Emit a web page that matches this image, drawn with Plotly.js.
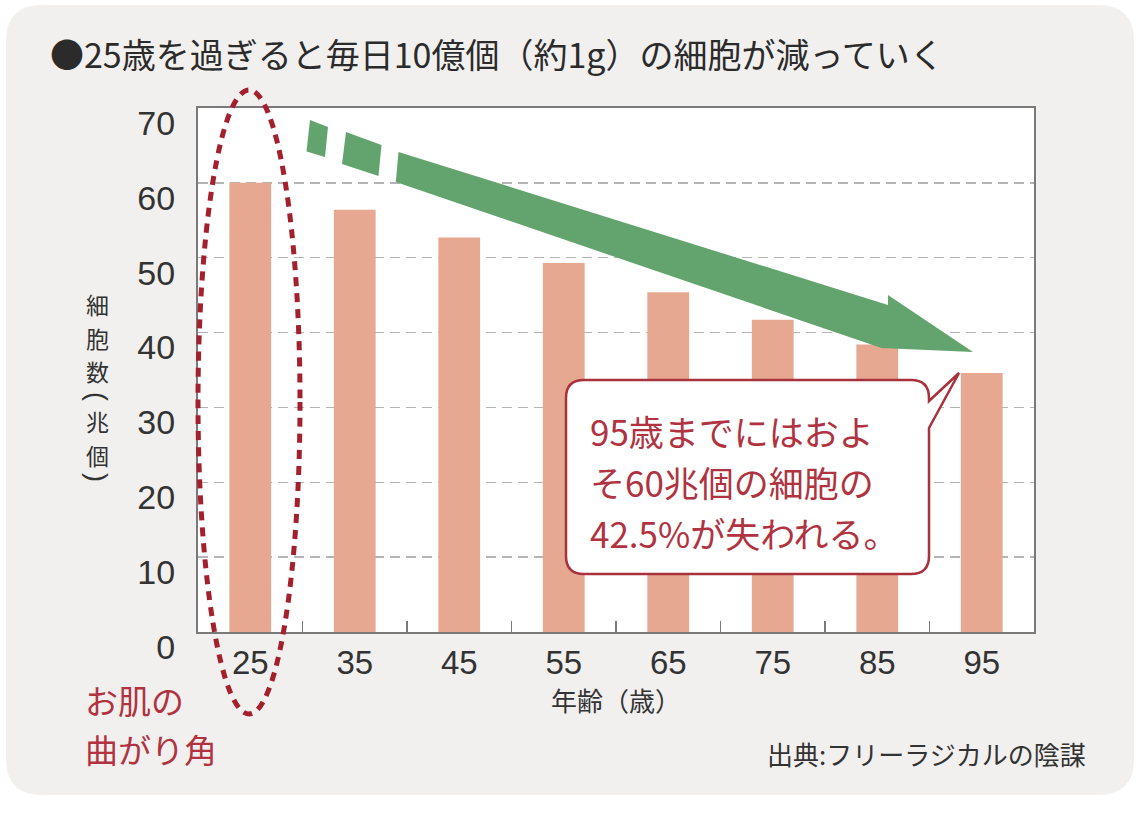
<!DOCTYPE html>
<html>
<head>
<meta charset="utf-8">
<script src="https://cdn.plot.ly/plotly-3.0.1.min.js"></script>
<style>
html,body{margin:0;padding:0;background:#ffffff;}
#chart{width:1136px;height:814px;}
</style>
</head>
<body>
<div id="chart"></div>
<script>
// ---- data ----
const ages = ['25', '35', '45', '55', '65', '75', '85', '95'];
const cellCounts = [60, 56.4, 52.7, 49.3, 45.4, 41.7, 38.4, 34.6];
const yTickValues = [0, 10, 20, 30, 40, 50, 60, 70];
const chartTitle = '●25歳を過ぎると毎日10億個（約1g）の細胞が減っていく';
const xAxisTitle = '年齢（歳）';
const yAxisTitleChars = ['細', '胞', '数', '(', '兆', '個', ')'];
const calloutLines = ['95歳までにはおよ', 'そ60兆個の細胞の', '42.5%が失われる。'];
const noteLines = ['お肌の', '曲がり角'];
const sourceText = '出典:フリーラジカルの陰謀';

// ---- geometry helpers (plot area in page pixels) ----
const W = 1136, H = 814;
const L = 198, R = 1034, T = 108, B = 632;
const px = x => (x - L) / (R - L);
const py = y => (B - y) / (B - T);
function P(x, y) { return px(x) + ',' + py(y); }
function rrectPath(x0, y0, x1, y1, r) {
  return 'M' + P(x0 + r, y0) + ' L' + P(x1 - r, y0) + ' Q' + P(x1, y0) + ' ' + P(x1, y0 + r) +
    ' L' + P(x1, y1 - r) + ' Q' + P(x1, y1) + ' ' + P(x1 - r, y1) +
    ' L' + P(x0 + r, y1) + ' Q' + P(x0, y1) + ' ' + P(x0, y1 - r) +
    ' L' + P(x0, y0 + r) + ' Q' + P(x0, y0) + ' ' + P(x0 + r, y0) + ' Z';
}
function polyPath(pts) {
  return pts.map((p, i) => (i ? 'L' : 'M') + P(p[0], p[1])).join(' ') + ' Z';
}

const CJK = '"Noto Sans CJK JP", "Noto Sans", sans-serif';
const LAT = '"Liberation Sans", Arial, sans-serif';
const RED = '#a3202d';
const TXT_RED = '#b0333f';
const GREEN = '#63a46e';

// callout box with tail
const cb = {x0: 566, y0: 380, x1: 929, y1: 574, r: 18};
const calloutPath =
  'M' + P(cb.x0 + cb.r, cb.y0) + ' L' + P(cb.x1 - cb.r, cb.y0) +
  ' Q' + P(cb.x1, cb.y0) + ' ' + P(cb.x1, cb.y0 + cb.r) +
  ' L' + P(cb.x1, 401) + ' L' + P(959, 373) + ' L' + P(cb.x1, 428) +
  ' L' + P(cb.x1, cb.y1 - cb.r) + ' Q' + P(cb.x1, cb.y1) + ' ' + P(cb.x1 - cb.r, cb.y1) +
  ' L' + P(cb.x0 + cb.r, cb.y1) + ' Q' + P(cb.x0, cb.y1) + ' ' + P(cb.x0, cb.y1 - cb.r) +
  ' L' + P(cb.x0, cb.y0 + cb.r) + ' Q' + P(cb.x0, cb.y0) + ' ' + P(cb.x0 + cb.r, cb.y0) + ' Z';

const shapes = [
  // grey rounded panel
  {type: 'path', xref: 'paper', yref: 'paper', layer: 'below',
   path: rrectPath(6, 5, 1134, 795, 36), fillcolor: '#f2f0ee', line: {width: 0}},
  // white plot area
  {type: 'rect', xref: 'paper', yref: 'paper', layer: 'below',
   x0: 0, x1: 1, y0: 0, y1: 1, fillcolor: '#ffffff', line: {width: 0}},
  // green dashed-start arrow
  {type: 'path', xref: 'paper', yref: 'paper', layer: 'above',
   path: polyPath([[310, 120], [328, 127], [325, 157], [306.5, 151.5]]), fillcolor: GREEN, line: {width: 0}},
  {type: 'path', xref: 'paper', yref: 'paper', layer: 'above',
   path: polyPath([[346, 132], [381.5, 145], [378.5, 176], [342, 164]]), fillcolor: GREEN, line: {width: 0}},
  {type: 'path', xref: 'paper', yref: 'paper', layer: 'above',
   path: polyPath([[398.5, 152], [888, 305], [888, 295], [973, 352], [881.5, 348], [395.8, 182]]),
   fillcolor: GREEN, line: {width: 0}},
  // callout
  {type: 'path', xref: 'paper', yref: 'paper', layer: 'above',
   path: calloutPath, fillcolor: '#ffffff', line: {color: '#a8313c', width: 2.5}},
  // dotted ellipse around 25
  {type: 'circle', xref: 'paper', yref: 'paper', layer: 'above',
   x0: px(198), x1: px(300), y0: py(714), y1: py(90),
   line: {color: RED, width: 5, dash: '9px,7px'}}
];

const annotations = [];
// vertical y-axis title: upright stacked characters, parentheses turned sideways
const yTitlePos = [304, 337.5, 371, 396, 421, 455, 477];
yAxisTitleChars.forEach((c, i) => {
  const isParen = (c === '(' || c === ')');
  annotations.push({xref: 'paper', yref: 'paper', x: px(97), y: py(yTitlePos[i]), text: c,
    showarrow: false, xanchor: 'center', yanchor: 'middle', borderpad: 0, borderwidth: 0,
    textangle: isParen ? 90 : 0,
    font: isParen ? {family: LAT, size: 27, color: '#333333'}
                  : {family: CJK, size: 23, color: '#333333'}});
});
// x-axis title
annotations.push({xref: 'paper', yref: 'paper', x: px(616), y: py(699), text: xAxisTitle,
  showarrow: false, xanchor: 'center', yanchor: 'middle', borderpad: 0, borderwidth: 0,
  font: {family: CJK, size: 26, color: '#333333'}});
calloutLines.forEach((t, i) => {
  annotations.push({xref: 'paper', yref: 'paper', x: px(590), y: py(430 + i * 51), text: t,
    showarrow: false, xanchor: 'left', yanchor: 'middle', borderpad: 0, borderwidth: 0,
    font: {family: CJK, size: 35, color: TXT_RED}});
});
noteLines.forEach((t, i) => {
  annotations.push({xref: 'paper', yref: 'paper', x: px(85), y: py(700 + i * 48.5), text: t,
    showarrow: false, xanchor: 'left', yanchor: 'middle', borderpad: 0, borderwidth: 0,
    font: {family: CJK, size: 33, color: TXT_RED}});
});
annotations.push({xref: 'paper', yref: 'paper', x: px(1086), y: py(753), text: sourceText,
  showarrow: false, xanchor: 'right', yanchor: 'middle', borderpad: 0, borderwidth: 0,
  font: {family: CJK, size: 26, color: '#333333'}});

const trace = {
  type: 'bar', x: ages, y: cellCounts,
  marker: {color: '#e6a891', line: {width: 0}},
  hoverinfo: 'x+y'
};

const layout = {
  width: W, height: H,
  margin: {l: L, r: W - R, t: T, b: H - B, pad: 0},
  paper_bgcolor: '#ffffff',
  plot_bgcolor: 'rgba(0,0,0,0)',
  showlegend: false,
  bargap: 0.6,
  title: {text: chartTitle, x: 50 / W, xanchor: 'left', xref: 'container',
    y: 1 - 56 / H, yanchor: 'middle', yref: 'container',
    font: {family: CJK, size: 34, color: '#2b2b2b'}},
  xaxis: {
    type: 'category', range: [-0.5, 7.5],
    showline: true, linecolor: '#7a7a7a', linewidth: 2, mirror: true,
    ticks: 'inside', tickson: 'boundaries', ticklen: 11, tickcolor: '#7a7a7a', tickwidth: 1.5,
    showgrid: false, zeroline: false,
    tickfont: {family: LAT, size: 33, color: '#333333'},
    ticklabelstandoff: 0
  },
  yaxis: {
    range: [0, 70], tickvals: yTickValues, ticktext: yTickValues.map(String),
    showline: true, linecolor: '#7a7a7a', linewidth: 2, mirror: true,
    ticks: '', showgrid: true, gridcolor: '#b4b4b4', gridwidth: 1.5, griddash: '10px,6px',
    zeroline: false,
    tickfont: {family: LAT, size: 34, color: '#333333'},
    ticklabelstandoff: 14, ticklabelshift: 15
  },
  shapes: shapes,
  annotations: annotations
};

Plotly.newPlot('chart', [trace], layout, {displayModeBar: false, staticPlot: true});
</script>
</body>
</html>
